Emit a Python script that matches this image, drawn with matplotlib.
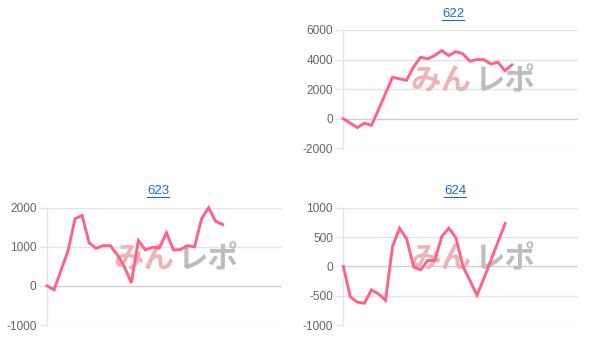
import matplotlib
matplotlib.use("Agg")
import matplotlib.pyplot as plt
from matplotlib.lines import Line2D

titles = ["622", "623", "624"]
s622 = [0, -300, -600, -300, -450, 600, 1700, 2800, 2700, 2600, 3500, 4160, 4050,
        4270, 4610, 4270, 4540, 4390, 3890, 4000, 4000, 3700, 3820, 3250, 3640]
s623 = [0, -100, 400, 900, 1720, 1800, 1100, 960, 1030, 1030, 800, 490, 80, 1160,
        920, 990, 970, 1360, 920, 930, 1030, 1000, 1720, 2000, 1650, 1570]
s624 = [0, -520, -610, -630, -400, -470, -580, 340, 650, 470, -10, -60, 100, 100,
        510, 650, 490, 0, -240, -490, -200, 110, 420, 730]
series = [s622, s623, s624]
yticks = [[-2000, 0, 2000, 4000, 6000],
          [-1000, 0, 1000, 2000],
          [-1000, -500, 0, 500, 1000]]
x_max = 33.4

W, H = 604, 349
fig = plt.figure(figsize=(W / 100, H / 100), dpi=100)
fig.patch.set_facecolor("white")

# axes boxes in pixels: left, right, top, bottom
boxes = [(343.3, 578.0, 30.0, 148.3),
         (47.0, 281.7, 207.7, 325.0),
         (343.3, 578.3, 207.7, 325.0)]
title_pos = [(453, 14), (158, 191), (455, 191)]

line_color = "#ff6384"
grid_color = "#e5e5e5"
zero_color = "#cfcfcf"
tick_font = ["Liberation Sans", "DejaVu Sans"]
wm_font = ["Noto Sans CJK JP", "DejaVu Sans"]

for title, data, yt, box, tp in zip(titles, series, yticks, boxes, title_pos):
    l, r, t, b = box
    ax = fig.add_axes([l / W, 1 - b / H, (r - l) / W, (b - t) / H])
    ax.set_xlim(0, x_max)
    ax.set_ylim(yt[0], yt[-1])
    ax.set_yticks(yt)
    ax.set_yticklabels([str(v) for v in yt], fontsize=8.6, color="#666666",
                       family=tick_font)
    ax.set_xticks([])
    ax.tick_params(axis="y", length=6, width=1, color=grid_color, pad=1.5)
    for sp in ["top", "right", "bottom"]:
        ax.spines[sp].set_visible(False)
    ax.spines["left"].set_color(grid_color)
    ax.spines["left"].set_linewidth(1)
    for v in yt:
        ax.axhline(v, color=zero_color if v == 0 else grid_color, lw=1, zorder=1)
    # watermark
    wy = 0.5 + (0.07 if title == "622" else 0.06)
    ax.text(0.545, wy, "みん", transform=ax.transAxes, ha="right", va="center",
            fontsize=22, fontweight="bold", color="#ecb4b4", family=wm_font,
            zorder=2)
    ax.text(0.555, wy, "レポ", transform=ax.transAxes, ha="left", va="center",
            fontsize=22, fontweight="bold", color="#bdbdbd", family=wm_font,
            zorder=2)
    ax.plot(range(len(data)), data, color=line_color, lw=2.1, zorder=5,
            solid_joinstyle="miter", clip_on=False)
    # title (link style)
    tx, ty = tp
    fig.text(tx / W, 1 - ty / H, title, ha="center", va="center",
             fontsize=9.5, color="#1a6ac8", family=tick_font)
    fig.add_artist(Line2D([(tx - 11) / W, (tx + 11) / W],
                          [1 - (ty + 5.5) / H, 1 - (ty + 5.5) / H],
                          color="#1a6ac8", lw=0.8))

fig.savefig("out.png", dpi=100, facecolor="white")
